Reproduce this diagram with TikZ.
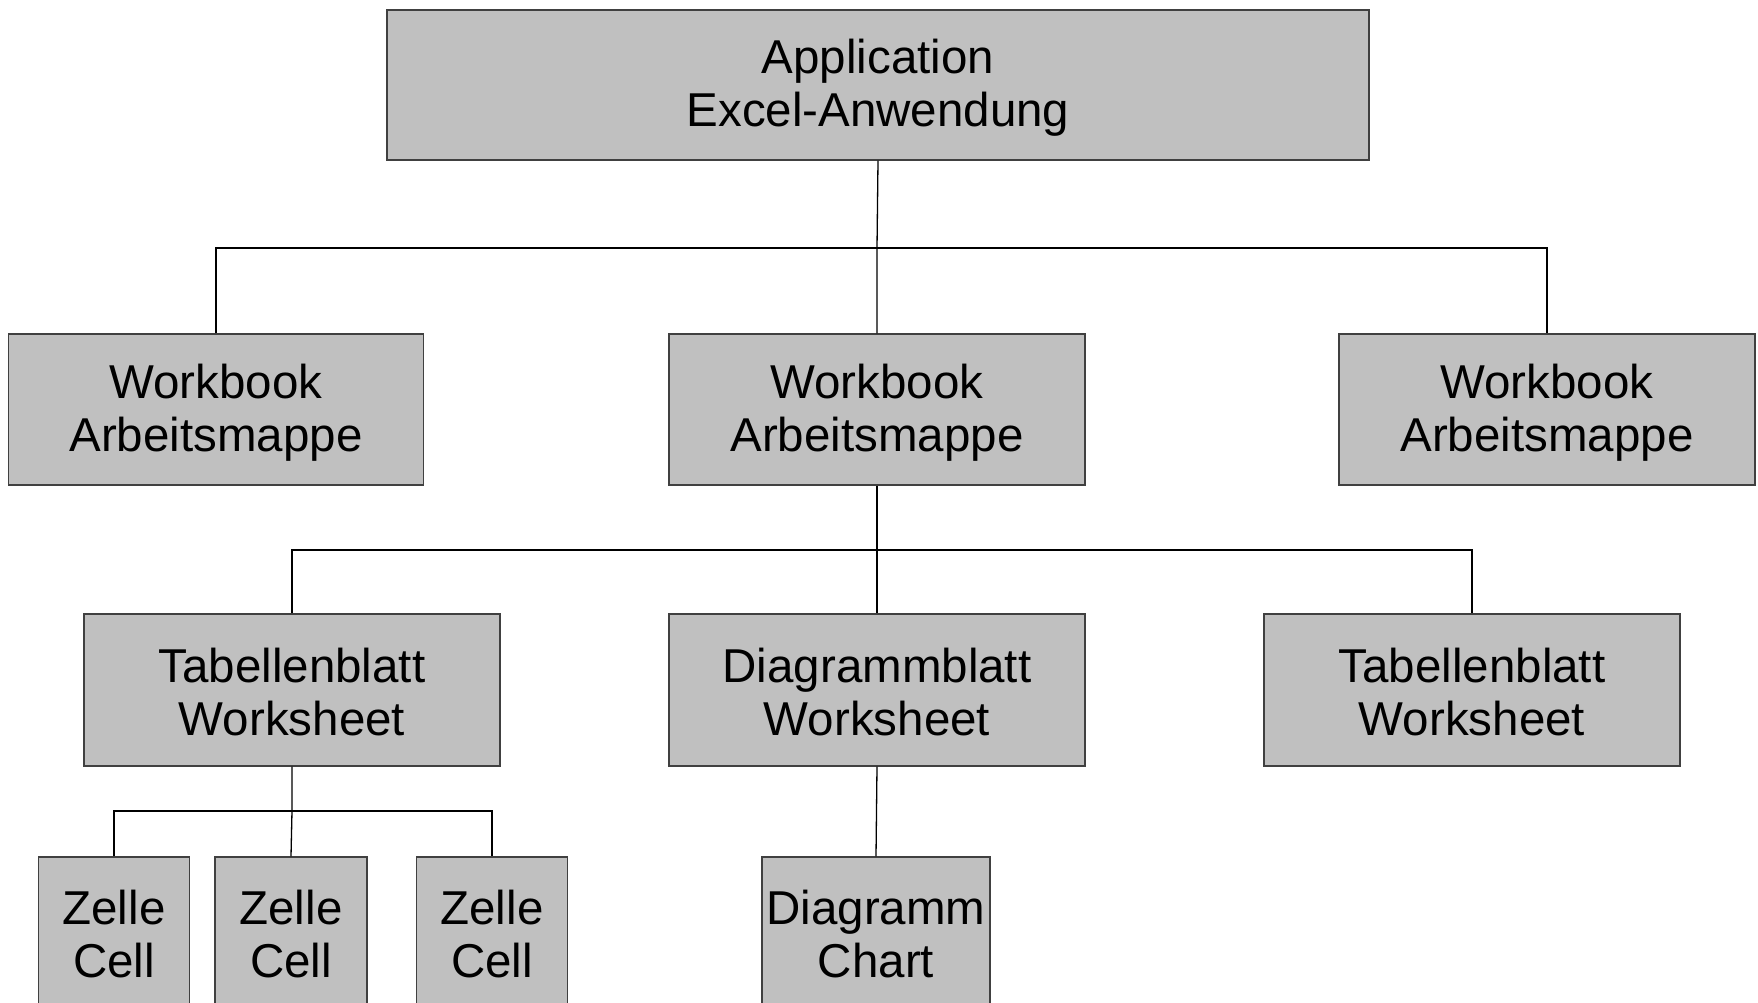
\documentclass[tikz,border=0pt]{standalone}
\usepackage{fontspec}
\setmainfont{Liberation Sans}
\definecolor{boxfill}{HTML}{C0C0C0}
\definecolor{boxline}{HTML}{404040}
\newcommand\lstr{\rule[-3pt]{0pt}{43pt}}
\begin{document}
\begin{tikzpicture}[x=1pt,y=-1pt,
  box/.style={draw=boxline, line width=1.3pt, fill=boxfill, rectangle, inner sep=0pt,
    align=center, font=\fontsize{47.5}{53}\selectfont},
  conn/.style={draw=black, line width=1.3pt}]
\clip (0,0) rectangle (1758,1003);
\fill[white] (0,0) rectangle (1758,1003);
% row 0
\node[box, minimum width=982pt, minimum height=150pt] (app) at (878,85) {\lstr Application\\\lstr Excel-Anwendung};
% row 1
\node[box, minimum width=415pt, minimum height=151pt] (wb1) at (216,409.5) {\lstr Workbook\\\lstr Arbeitsmappe};
\node[box, minimum width=416pt, minimum height=151pt] (wb2) at (877,409.5) {\lstr Workbook\\\lstr Arbeitsmappe};
\node[box, minimum width=416pt, minimum height=151pt] (wb3) at (1547,409.5) {\lstr Workbook\\\lstr Arbeitsmappe};
% row 2
\node[box, minimum width=416pt, minimum height=152pt] (tb1) at (292,690) {\lstr Tabellenblatt\\\lstr Worksheet};
\node[box, minimum width=416pt, minimum height=152pt] (db) at (877,690) {\lstr Diagrammblatt\\\lstr Worksheet};
\node[box, minimum width=416pt, minimum height=152pt] (tb2) at (1472,690) {\lstr Tabellenblatt\\\lstr Worksheet};
% row 3
\node[box, minimum width=151pt, minimum height=151pt] (c1) at (114,932.5) {\lstr Zelle\\\lstr Cell};
\node[box, minimum width=152pt, minimum height=151pt] (c2) at (291,932.5) {\lstr Zelle\\\lstr Cell};
\node[box, minimum width=151pt, minimum height=151pt] (c3) at (492,932.5) {\lstr Zelle\\\lstr Cell};
\node[box, minimum width=228pt, minimum height=151pt] (dg) at (876,932.5) {\lstr Diagramm\\\lstr Chart};
% connectors
\coordinate (b1) at (877,248);
\draw[conn] (app.south) -- (b1) -- (wb2.north);
\draw[conn] (wb1.north) |- (b1) -| (wb3.north);
\coordinate (b2) at (877,550);
\draw[conn] (wb2.south) -- (b2) -- (db.north);
\draw[conn] (tb1.north) |- (b2) -| (tb2.north);
\coordinate (b3) at (292,811);
\draw[conn] (tb1.south) -- (b3) -- (c2.north);
\draw[conn] (c1.north) |- (b3) -| (c3.north);
\draw[conn] (db.south) -- (dg.north);
\end{tikzpicture}
\end{document}
